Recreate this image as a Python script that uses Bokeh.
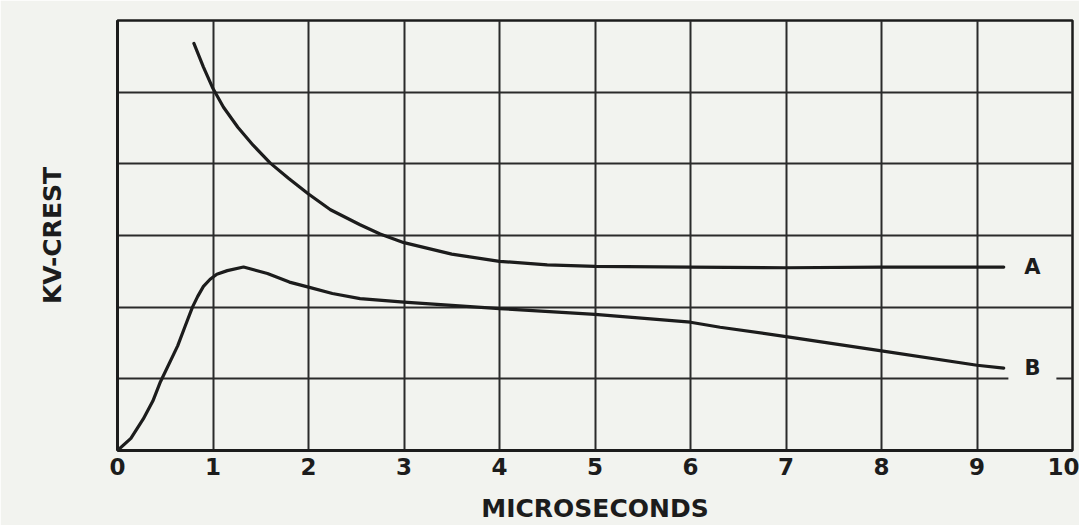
from bokeh.plotting import figure
from bokeh.models import FixedTicker, Label, Range1d
from bokeh.embed import file_html
from bokeh.resources import INLINE

# ---- data ----
a_x = [0.80, 0.90, 1.00, 1.11, 1.26, 1.42, 1.60, 1.79, 2.00, 2.23, 2.54, 2.75, 3.00, 3.50, 4.00, 4.50, 5.00, 6.00, 7.00, 8.00, 9.00, 9.28]
a_y = [5.68, 5.35, 5.05, 4.79, 4.51, 4.26, 4.01, 3.80, 3.58, 3.36, 3.15, 3.02, 2.90, 2.74, 2.64, 2.59, 2.57, 2.56, 2.55, 2.56, 2.56, 2.56]

b_x = [0.00, 0.14, 0.27, 0.37, 0.45, 0.63, 0.71, 0.785, 0.84, 0.90, 0.97, 1.04, 1.15, 1.32, 1.57, 1.80, 2.00, 2.25, 2.54, 3.00, 4.00, 5.00, 6.00, 6.31, 7.00, 8.00, 9.00, 9.28]
b_y = [0.00, 0.17, 0.44, 0.69, 0.96, 1.46, 1.74, 2.00, 2.15, 2.29, 2.39, 2.46, 2.51, 2.56, 2.47, 2.35, 2.28, 2.19, 2.12, 2.07, 1.98, 1.90, 1.79, 1.72, 1.59, 1.39, 1.19, 1.15]

x_ticks = [0, 1, 2, 3, 4, 5, 6, 7, 8, 9, 10]
y_grid = [0, 1, 2, 3, 4, 5, 6]
series_names = ["A", "B"]
label_x = 9.58

BG = "#f2f3ef"
INK = "#1c1c1c"
FONT = "DejaVu Sans"

p = figure(width=1079, height=525, x_range=Range1d(0, 10), y_range=Range1d(0, 6),
           output_backend="svg", toolbar_location=None,
           min_border_left=117, min_border_right=7, min_border_top=20, min_border_bottom=73)

p.background_fill_color = BG
p.border_fill_color = BG
p.outline_line_color = INK
p.outline_line_width = 2.5

# grid
p.xgrid.ticker = FixedTicker(ticks=x_ticks)
p.ygrid.ticker = FixedTicker(ticks=y_grid)
for g in (p.xgrid, p.ygrid):
    g.grid_line_color = "#2a2a2a"
    g.grid_line_width = 2
    g.grid_line_alpha = 1.0

# x axis
p.xaxis.ticker = FixedTicker(ticks=x_ticks)
p.xaxis.major_tick_in = 0
p.xaxis.major_tick_out = 0
p.xaxis.minor_tick_in = 0
p.xaxis.minor_tick_out = 0
p.xaxis.axis_line_color = INK
p.xaxis.axis_line_width = 3
p.xaxis.major_label_standoff = 7
p.xaxis.major_label_text_font = FONT
p.xaxis.major_label_text_font_size = "23px"
p.xaxis.major_label_text_font_style = "bold"
p.xaxis.major_label_text_color = INK
p.xaxis.axis_label = "MICROSECONDS"
p.xaxis.axis_label_text_font = FONT
p.xaxis.axis_label_text_font_size = "25px"
p.xaxis.axis_label_text_font_style = "bold"
p.xaxis.axis_label_text_color = INK
p.xaxis.axis_label_standoff = 16

# y axis
p.yaxis.ticker = FixedTicker(ticks=[])
p.yaxis.major_tick_in = 0
p.yaxis.major_tick_out = 0
p.yaxis.minor_tick_in = 0
p.yaxis.minor_tick_out = 0
p.yaxis.major_label_standoff = 0
p.yaxis.axis_line_color = INK
p.yaxis.axis_line_width = 3
p.yaxis.axis_label = "KV-CREST"
p.yaxis.axis_label_text_font = FONT
p.yaxis.axis_label_text_font_size = "25px"
p.yaxis.axis_label_text_font_style = "bold"
p.yaxis.axis_label_text_color = INK
p.yaxis.axis_label_standoff = 51

# curves
p.line(a_x, a_y, line_color=INK, line_width=3.2, line_cap="round", line_join="round")
p.line(b_x, b_y, line_color=INK, line_width=3.2, line_cap="round", line_join="round")

# end labels
p.add_layout(Label(x=label_x, y=a_y[-1], text=series_names[0], text_align="center",
                   text_baseline="middle", text_font=FONT, text_font_size="21px",
                   text_font_style="bold", text_color=INK))
p.add_layout(Label(x=label_x, y=b_y[-1], text=series_names[1], text_align="center",
                   text_baseline="middle", text_font=FONT, text_font_size="21px",
                   text_font_style="bold", text_color=INK,
                   background_fill_color=BG, padding=16))

open("out.html", "w").write(file_html(p, INLINE))
